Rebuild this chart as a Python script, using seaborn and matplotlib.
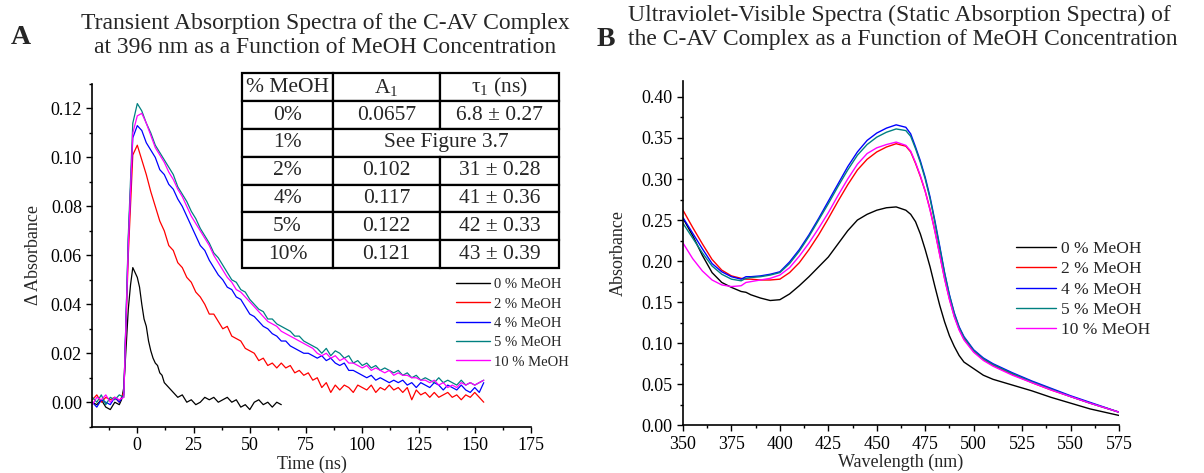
import numpy as np
import pandas as pd
import matplotlib
matplotlib.use("Agg")
import matplotlib.pyplot as plt
import seaborn as sns
from matplotlib.ticker import MultipleLocator, FormatStrFormatter
from matplotlib.lines import Line2D

# ---------------- data ----------------
series_labels = ["0 % MeOH", "2 % MeOH", "4 % MeOH", "5 % MeOH", "10 % MeOH"]
series_colors = ["#000000", "#FF0000", "#0000FF", "#008080", "#FF00FF"]

# Panel A : transient absorption at 396 nm
time_black = [-20, -18, -16, -14, -12, -10, -8,
              -7, -6, -5, -4, -3, -2, -1, 0, 1, 2,
              3, 4, 5, 6, 7, 8, 9, 10, 11, 12,
              13, 14,
              16, 18, 20, 22, 24, 26, 28, 30, 32, 34,
              36, 38, 40, 42, 44, 46, 48, 50, 52, 54,
              56, 58, 60, 62, 64]
dA_0 = [0.000, -0.001, 0.001, -0.002, -0.003, 0.000, -0.001,
        0.001, 0.006, 0.022, 0.038, 0.048, 0.055, 0.053, 0.051, 0.047, 0.040,
        0.034, 0.031, 0.025, 0.021, 0.018, 0.016, 0.015, 0.012, 0.011, 0.008,
        0.007, 0.006,
        0.004, 0.002, 0.003, 0.000, 0.001, -0.001, 0.000, 0.002, 0.001, 0.002,
        0.000, 0.001, 0.002, 0.000, 0.001, -0.002, -0.001, -0.003, 0.000, 0.001,
        -0.001, 0.000, -0.002, 0.000, -0.001]

time_ns = list(range(-20, 156, 2))
dA_2 = [0.001, 0.003, 0.000, 0.002, 0.001, 0.002, 0.000, 0.004, 0.060, 0.101,
        0.105, 0.099, 0.093, 0.086, 0.080, 0.074, 0.070, 0.064, 0.062, 0.057,
        0.055, 0.051, 0.049, 0.045, 0.043, 0.040, 0.036, 0.036, 0.033, 0.030,
        0.031, 0.027, 0.026, 0.025, 0.022, 0.021, 0.020, 0.017, 0.018, 0.015,
        0.016, 0.014, 0.016, 0.014, 0.015, 0.012, 0.013, 0.011, 0.012, 0.009,
        0.010, 0.006, 0.008, 0.004, 0.007, 0.005, 0.007, 0.006, 0.004, 0.007,
        0.006, 0.005, 0.007, 0.004, 0.006, 0.005, 0.007, 0.005, 0.006, 0.004,
        0.006, 0.001, 0.005, 0.003, 0.004, 0.002, 0.004, 0.002, 0.003, 0.004,
        0.002, 0.003, 0.001, 0.003, 0.002, 0.004, 0.002, 0.000]
dA_4 = [0.000, -0.002, 0.001, 0.000, -0.001, 0.002, 0.000, 0.003, 0.066, 0.108,
        0.113, 0.111, 0.106, 0.103, 0.100, 0.095, 0.093, 0.089, 0.087, 0.083,
        0.080, 0.076, 0.072, 0.068, 0.064, 0.062, 0.058, 0.055, 0.052, 0.050,
        0.047, 0.046, 0.043, 0.042, 0.039, 0.036, 0.035, 0.033, 0.031, 0.030,
        0.028, 0.027, 0.025, 0.025, 0.023, 0.022, 0.021, 0.020, 0.020, 0.019,
        0.018, 0.019, 0.017, 0.018, 0.016, 0.015, 0.016, 0.013, 0.013, 0.012,
        0.011, 0.010, 0.011, 0.009, 0.010, 0.009, 0.008, 0.009, 0.008, 0.009,
        0.007, 0.008, 0.006, 0.008, 0.007, 0.006, 0.008, 0.007, 0.005, 0.007,
        0.006, 0.005, 0.007, 0.005, 0.004, 0.006, 0.004, 0.008]
dA_5 = [0.002, 0.000, 0.003, -0.001, 0.002, 0.001, 0.003, 0.002, 0.068, 0.114,
        0.122, 0.119, 0.114, 0.110, 0.105, 0.102, 0.099, 0.096, 0.093, 0.088,
        0.085, 0.082, 0.078, 0.075, 0.071, 0.068, 0.065, 0.061, 0.059, 0.056,
        0.053, 0.050, 0.049, 0.046, 0.045, 0.042, 0.040, 0.038, 0.037, 0.034,
        0.034, 0.032, 0.031, 0.030, 0.029, 0.027, 0.027, 0.025, 0.024, 0.023,
        0.022, 0.020, 0.022, 0.019, 0.021, 0.020, 0.018, 0.019, 0.016, 0.017,
        0.015, 0.016, 0.014, 0.015, 0.013, 0.014, 0.013, 0.012, 0.013, 0.011,
        0.012, 0.010, 0.011, 0.009, 0.010, 0.009, 0.008, 0.010, 0.008, 0.009,
        0.008, 0.007, 0.009, 0.007, 0.008, 0.007, 0.008, 0.009]
dA_10 = [-0.001, 0.002, 0.001, 0.003, 0.000, 0.002, 0.001, 0.002, 0.064, 0.110,
         0.117, 0.118, 0.114, 0.109, 0.104, 0.101, 0.098, 0.094, 0.091, 0.087,
         0.084, 0.080, 0.076, 0.073, 0.070, 0.067, 0.064, 0.060, 0.057, 0.054,
         0.051, 0.049, 0.046, 0.045, 0.043, 0.041, 0.039, 0.037, 0.035, 0.033,
         0.032, 0.031, 0.029, 0.028, 0.027, 0.026, 0.025, 0.024, 0.023, 0.022,
         0.020, 0.019, 0.020, 0.018, 0.019, 0.017, 0.018, 0.016, 0.016, 0.015,
         0.014, 0.015, 0.013, 0.014, 0.013, 0.012, 0.013, 0.011, 0.012, 0.011,
         0.011, 0.010, 0.010, 0.009, 0.009, 0.008, 0.009, 0.007, 0.008, 0.006,
         0.007, 0.006, 0.008, 0.007, 0.008, 0.007, 0.008, 0.009]

# Panel B : static UV-Vis spectra
wavelength_nm = [350, 355, 360, 365, 370, 375, 380, 382.5, 385, 390,
                 395, 400, 405, 410, 415, 420, 425, 430, 435, 440,
                 445, 450, 455, 460, 465, 467.5, 470, 472.5, 475, 477.5,
                 480, 482.5, 485, 487.5, 490, 492.5, 495, 500, 505, 510,
                 520, 530, 540, 550, 560, 575]
abs_0 = [0.252, 0.231, 0.207, 0.186, 0.174, 0.168, 0.163, 0.162, 0.159, 0.155,
         0.152, 0.153, 0.160, 0.170, 0.181, 0.193, 0.205, 0.221, 0.237, 0.250,
         0.257, 0.262, 0.265, 0.266, 0.262, 0.257, 0.248, 0.233, 0.214, 0.193,
         0.169, 0.146, 0.126, 0.109, 0.096, 0.085, 0.077, 0.069, 0.061, 0.056,
         0.049, 0.042, 0.034, 0.027, 0.020, 0.012]
abs_2 = [0.262, 0.241, 0.221, 0.202, 0.189, 0.182, 0.179, 0.178, 0.178, 0.177,
         0.177, 0.178, 0.186, 0.198, 0.214, 0.232, 0.252, 0.273, 0.293, 0.311,
         0.324, 0.333, 0.339, 0.343, 0.340, 0.333, 0.319, 0.303, 0.285, 0.263,
         0.237, 0.208, 0.179, 0.154, 0.133, 0.117, 0.105, 0.090, 0.080, 0.073,
         0.062, 0.052, 0.043, 0.035, 0.027, 0.016]
abs_4 = [0.253, 0.234, 0.215, 0.197, 0.187, 0.181, 0.178, 0.181, 0.181, 0.182,
         0.184, 0.187, 0.199, 0.214, 0.232, 0.252, 0.273, 0.294, 0.315, 0.333,
         0.347, 0.356, 0.362, 0.366, 0.363, 0.355, 0.339, 0.322, 0.302, 0.278,
         0.249, 0.218, 0.186, 0.159, 0.137, 0.120, 0.108, 0.092, 0.082, 0.075,
         0.064, 0.054, 0.045, 0.036, 0.028, 0.016]
abs_5 = [0.246, 0.228, 0.210, 0.194, 0.184, 0.178, 0.176, 0.179, 0.180, 0.181,
         0.183, 0.186, 0.197, 0.212, 0.230, 0.250, 0.270, 0.291, 0.311, 0.329,
         0.342, 0.351, 0.357, 0.361, 0.359, 0.352, 0.337, 0.320, 0.300, 0.276,
         0.247, 0.216, 0.185, 0.158, 0.136, 0.119, 0.107, 0.091, 0.081, 0.074,
         0.063, 0.053, 0.044, 0.035, 0.027, 0.016]
abs_10 = [0.222, 0.203, 0.188, 0.177, 0.171, 0.169, 0.170, 0.174, 0.175, 0.177,
          0.179, 0.183, 0.192, 0.206, 0.222, 0.240, 0.259, 0.280, 0.300, 0.318,
          0.331, 0.338, 0.342, 0.345, 0.341, 0.334, 0.320, 0.304, 0.285, 0.262,
          0.236, 0.207, 0.178, 0.153, 0.132, 0.116, 0.104, 0.089, 0.079, 0.072,
          0.061, 0.052, 0.043, 0.035, 0.027, 0.016]

# Inset table
table_header = ["% MeOH", "A$_{\\mathrm{1}}$", "\u03c4$_{\\mathrm{1}}$ (ns)"]
table_pct = ["0%", "1%", "2%", "4%", "5%", "10%"]
table_A1 = ["0.0657", "See Figure 3.7", "0.102", "0.117", "0.122", "0.121"]
table_tau = ["6.8 \u00b1 0.27", "", "31 \u00b1 0.28", "41 \u00b1 0.36", "42 \u00b1 0.33", "43 \u00b1 0.39"]

# ---------------- style ----------------
sns.set_theme(style="ticks")
plt.rcParams["font.family"] = ["Liberation Serif", "DejaVu Serif"]
plt.rcParams["mathtext.fontset"] = "custom"
plt.rcParams["mathtext.rm"] = "Liberation Serif"
plt.rcParams["mathtext.it"] = "Liberation Serif:italic"
plt.rcParams["axes.linewidth"] = 1.2
for ax_ in ("xtick", "ytick"):
    plt.rcParams[f"{ax_}.major.width"] = 1.0
    plt.rcParams[f"{ax_}.minor.width"] = 1.0
    plt.rcParams[f"{ax_}.major.size"] = 4.5
    plt.rcParams[f"{ax_}.minor.size"] = 2.5
    plt.rcParams[f"{ax_}.color"] = "black"
plt.rcParams["axes.edgecolor"] = "black"

W, H = 1204, 473
fig = plt.figure(figsize=(W / 100, H / 100), dpi=100)
fig.patch.set_facecolor("white")

palette = dict(zip(series_labels, series_colors))

# ---------------- Panel A ----------------
axA = fig.add_axes([92.3 / W, 1 - 426.7 / H, (531 - 92.3) / W, (426.7 - 84) / H])
a_frames = [pd.DataFrame({"t": time_black, "v": dA_0, "s": series_labels[0]})]
for lab, vals in zip(series_labels[1:], [dA_2, dA_4, dA_5, dA_10]):
    a_frames.append(pd.DataFrame({"t": time_ns, "v": vals, "s": lab}))
dfA = pd.concat(a_frames, ignore_index=True)
sns.lineplot(data=dfA, x="t", y="v", hue="s", hue_order=series_labels,
             palette=palette, estimator=None, sort=False, lw=0.9,
             legend=False, ax=axA)
axA.set_xlim(-20, 175)
axA.set_ylim(-0.01, 0.13)
axA.xaxis.set_major_locator(MultipleLocator(25))
axA.xaxis.set_minor_locator(MultipleLocator(12.5))
axA.yaxis.set_major_locator(MultipleLocator(0.02))
axA.yaxis.set_minor_locator(MultipleLocator(0.01))
axA.yaxis.set_major_formatter(FormatStrFormatter("%.2f"))
axA.set_xlabel("Time (ns)", fontsize=13, labelpad=1)
axA.set_ylabel("\u0394 Absorbance", fontsize=13, labelpad=6)
axA.tick_params(axis="both", which="both", direction="out", labelsize=13, pad=3)
sns.despine(ax=axA)
axA.set_facecolor("white")

handlesA = [Line2D([], [], color=c, lw=1.0) for c in series_colors]
fig.legend(handlesA, series_labels, loc="upper left",
           bbox_to_anchor=(455.7 / W, 1 - 278 / H), frameon=False,
           fontsize=10.5, handlelength=2.35, handletextpad=0.3,
           labelspacing=0.42, borderpad=0, borderaxespad=0)

# inset table
tab_ax = fig.add_axes([241.7 / W, 1 - 268 / H, (559.3 - 241.7) / W, (268 - 73.3) / H])
tab_ax.axis("off")
cell_text = [table_header] + [[p, a, t] for p, a, t in zip(table_pct, table_A1, table_tau)]
col_w = [91.6, 106.7, 119.3]
col_frac = [c / sum(col_w) for c in col_w]
tbl = tab_ax.table(cellText=cell_text, colWidths=col_frac, bbox=[0, 0, 1, 1],
                   cellLoc="center")
tbl.auto_set_font_size(False)
tbl.set_fontsize(15.5)
merged_row = 1 + table_pct.index("1%")
for (r, c), cell in tbl.get_celld().items():
    cell.set_linewidth(1.6)
    cell.set_edgecolor("black")
    cell.set_facecolor("white")
    cell.get_text().set_fontfamily(["Liberation Serif", "DejaVu Serif"])
    if r == merged_row and c in (1, 2):
        cell.get_text().set_text("")
        cell.visible_edges = "BTL" if c == 1 else "BTR"
merged_x = col_frac[0] + (col_frac[1] + col_frac[2]) / 2
merged_y = 1 - (merged_row + 0.5) / len(cell_text)
tab_ax.text(merged_x, merged_y, table_A1[table_pct.index("1%")], ha="center",
            va="center", fontsize=15.5, transform=tab_ax.transAxes)

# ---------------- Panel B ----------------
axB = fig.add_axes([683 / W, 1 - 425.3 / H, (1119 - 683) / W, (425.3 - 80.5) / H])
dfB = pd.concat([pd.DataFrame({"w": wavelength_nm, "v": vals, "s": lab})
                 for lab, vals in zip(series_labels, [abs_0, abs_2, abs_4, abs_5, abs_10])],
                ignore_index=True)
sns.lineplot(data=dfB, x="w", y="v", hue="s", hue_order=series_labels,
             palette=palette, estimator=None, sort=False, lw=1.0,
             legend=False, ax=axB)
axB.set_xlim(350, 575)
axB.set_ylim(0, 0.42)
axB.xaxis.set_major_locator(MultipleLocator(25))
axB.xaxis.set_minor_locator(MultipleLocator(12.5))
axB.yaxis.set_major_locator(MultipleLocator(0.05))
axB.yaxis.set_minor_locator(MultipleLocator(0.025))
axB.yaxis.set_major_formatter(FormatStrFormatter("%.2f"))
axB.set_xlabel("Wavelength (nm)", fontsize=13, labelpad=1)
axB.set_ylabel("Absorbance", fontsize=13, labelpad=10)
axB.tick_params(axis="both", which="both", direction="out", labelsize=13, pad=3)
sns.despine(ax=axB)
axB.set_facecolor("white")

handlesB = [Line2D([], [], color=c, lw=1.0) for c in series_colors]
fig.legend(handlesB, series_labels, loc="upper left",
           bbox_to_anchor=(1016 / W, 1 - 241 / H), frameon=False,
           fontsize=12.5, handlelength=2.3, handletextpad=0.3,
           labelspacing=0.24, borderpad=0, borderaxespad=0)

# ---------------- titles ----------------
fig.text(325 / W, 1 - 13 / H,
         "Transient Absorption Spectra of the C-AV Complex\n"
         "at 396 nm as a Function of MeOH Concentration",
         ha="center", va="top", fontsize=17, linespacing=1.2)
fig.text(628 / W, 1 - 5 / H,
         "Ultraviolet-Visible Spectra (Static Absorption Spectra) of\n"
         "the C-AV Complex as a Function of MeOH Concentration",
         ha="left", va="top", fontsize=17, linespacing=1.2)
fig.text(11 / W, 1 - 44 / H, "A", fontsize=20, fontweight="bold", va="baseline")
fig.text(597 / W, 1 - 46 / H, "B", fontsize=20, fontweight="bold", va="baseline")

fig.savefig("out.png", dpi=100, facecolor="white")
